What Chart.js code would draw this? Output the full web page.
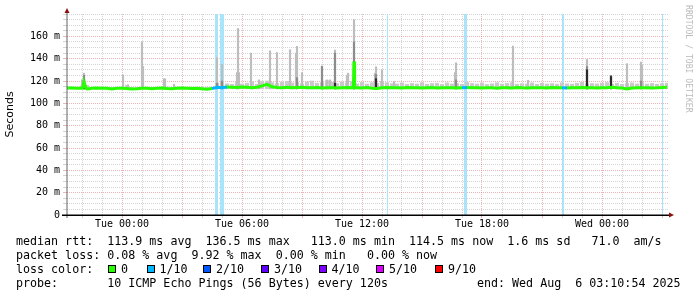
<!DOCTYPE html>
<html><head><meta charset="utf-8">
<script src="https://cdn.jsdelivr.net/npm/chart.js@4.4.1/dist/chart.umd.min.js"></script>
<style>
html,body{margin:0;padding:0;background:#fff;}
#wrap{position:relative;width:697px;height:297px;overflow:hidden;background:#fff;}
canvas{position:absolute;left:0;top:0;}
.t{position:absolute;font-family:"DejaVu Sans Mono",monospace;font-size:11.66px;line-height:14px;white-space:pre;color:#000;}
.sw{position:absolute;top:265px;width:6px;height:6px;border:1px solid #000;}
#rrd{position:absolute;left:683px;top:5px;writing-mode:vertical-rl;font-family:"DejaVu Sans Mono",monospace;font-size:8.15px;line-height:11px;color:#bbbbbb;white-space:pre;}
</style></head>
<body>
<div id="wrap">
<canvas id="c" width="697" height="297" style="width:697px;height:297px"></canvas>
<div id="rrd">RRDTOOL / TOBI OETIKER</div>
<div class="t" style="left:16px;top:234px">median rtt:  113.9 ms avg  136.5 ms max   113.0 ms min  114.5 ms now  1.6 ms sd   71.0  am/s</div>
<div class="t" style="left:16px;top:248px">packet loss: 0.08 % avg  9.92 % max  0.00 % min   0.00 % now</div>
<div class="t" style="left:16px;top:262px">loss color:</div>
<div id="lossLegend"></div>
<div class="t" style="left:16px;top:276px">probe:       10 ICMP Echo Pings (56 Bytes) every 120s</div>
<div class="t" style="left:477px;top:276px">end: Wed Aug  6 03:10:54 2025</div>
</div>
<script>
// ---- axis / tick data ----
const xTickHours  = [0, 6, 12, 18, 24];
const xTickLabels = ['Tue 00:00', 'Tue 06:00', 'Tue 12:00', 'Tue 18:00', 'Wed 00:00'];
const yTickValues = [0, 20, 40, 60, 80, 100, 120, 140, 160];
const yTickLabels = ['0', '20 m', '40 m', '60 m', '80 m', '100 m', '120 m', '140 m', '160 m'];

// time grid of the median / smoke series: hours relative to Tue 00:00, 15 min step
const gridStart = -2.75;
const gridStep = 0.25;

// median RTT (ms), one value per 15 min
const medianValues = [
  113.7,113.8,113.6,113.6,112.9,113.5,113.7,113.4,113.6,112.9,
  113.5,113.6,113.2,112.8,113.0,113.6,113.5,113.0,113.6,113.7,
  113.2,113.0,113.5,113.7,113.6,113.2,113.6,113.0,112.6,113.2,
  114.3,114.0,114.6,114.4,114.2,114.6,114.3,114.0,114.4,115.6,
  117.0,114.8,114.2,114.0,114.3,113.9,114.1,114.3,113.9,114.0,
  114.2,113.8,114.0,114.1,113.7,114.0,114.2,113.9,114.0,113.8,
  114.1,113.6,113.2,114.0,114.1,113.9,114.0,113.8,114.1,113.9,
  114.0,113.7,114.0,114.1,113.8,114.0,113.9,114.0,113.7,113.9,
  114.1,113.9,114.0,113.8,114.0,113.9,113.6,113.9,114.0,113.8,
  114.1,113.9,113.8,114.0,113.9,114.0,113.8,114.1,113.9,114.0,
  113.8,114.0,113.9,114.2,113.9,114.0,113.8,113.9,114.0,114.3,
  113.9,113.8,112.9,113.8,114.0,113.9,114.0,113.8,113.9,114.1,
  114.5
];
// short median excursions [hour, ms]
const medianSpikes = [
  [-1.95, 114.5], [-1.9, 119.0], [-1.85, 116.5], [-1.8, 113.3],
  [11.57, 114.0], [11.6, 137.5], [11.63, 114.1]
];

// light smoke band top (ms), one value per 15 min
const fuzzTop = [
  114.5,114.6,114.4,115.6,116.2,114.4,114.3,114.5,114.2,114.4,
  114.3,114.5,116.3,114.4,114.3,114.5,114.4,114.3,114.2,114.5,
  114.6,114.3,114.5,114.4,114.3,114.5,114.3,114.4,114.2,114.6,
  118.0,119.0,117.5,117.0,118.5,117.3,118.0,119.4,117.1,119.5,
  120.0,118.5,117.7,119.0,119.7,118.3,118.7,117.5,119.3,120.0,
  118.0,118.5,120.3,119.0,117.7,119.1,118.4,119.5,117.5,118.7,
  117.3,118.5,117.9,119.7,118.5,117.6,117.4,118.3,117.0,117.8,
  117.3,118.5,117.1,117.7,118.0,116.9,118.3,117.4,117.7,117.0,
  118.7,117.8,117.3,118.1,116.9,117.5,118.4,117.2,117.8,118.5,
  117.1,117.6,117.4,118.3,117.0,117.9,117.3,117.7,117.1,118.4,
  117.5,117.2,118.0,118.8,117.3,117.7,117.4,118.1,118.6,117.2,
  117.9,117.0,117.6,118.3,117.4,118.5,117.3,117.8,117.1,117.7,
  118.1
];

// smoke spikes: time (h), highest ping, mid-density top, dense core top (ms)
const spikeTimes = [-2.0,-1.9,0.05,0.3,1.0,1.05,2.1,2.15,2.6,4.75,5.0,5.75,5.8,5.85,6.45,6.85,7.4,7.75,8.4,8.7,8.75,9.0,10.0,10.25,10.4,10.65,11.25,11.3,11.6,12.65,12.7,13.0,13.6,16.65,16.7,19.55,20.3,23.25,24.45,25.25,25.95,26.0];
const spikeHigh  = [121,127,125.5,116.5,155,133,122,122,117,141,135,127.5,167,127.5,145,121,147,145.5,148,145,151,127.5,133.5,121,121,147.7,125,127,175,127,132.7,130,119.5,127.6,136.3,151.3,120.7,139.3,125,135.5,137,134];
const spikeMid   = [null,125,null,null,null,null,null,null,null,118,120,null,null,null,null,null,null,null,null,null,123,null,133,null,null,145,null,null,155,null,126,null,null,null,121,null,null,133,125,null,120,null];
const spikeCore  = [null,121,null,null,null,null,null,null,null,null,null,null,null,null,null,null,null,null,null,null,null,null,null,null,null,118,null,null,137,null,122,null,null,null,null,null,null,130,124,null,null,null];

// packet loss periods (hours)
const lossStart = [4.65, 4.90, 13.25, 17.10, 22.00, 27.00];
const lossEnd   = [4.80, 5.10, 13.30, 17.25, 22.10, 27.05];

// loss legend
const lossLabels = ['0', '1/10', '2/10', '3/10', '4/10', '5/10', '9/10'];
const lossColors = ['#26ff00', '#00b8ff', '#0059ff', '#5e00ff', '#7e00ff', '#dd00ff', '#ff0000'];
const lossSwatchX = [108, 146.5, 203, 261, 318.5, 376, 435];

// ---- build legend ----
const ll = document.getElementById('lossLegend');
lossLabels.forEach((lab, i) => {
  const s = document.createElement('div');
  s.className = 'sw'; s.style.left = lossSwatchX[i] + 'px'; s.style.background = lossColors[i];
  ll.appendChild(s);
  const t = document.createElement('div');
  t.className = 't'; t.style.top = '262px'; t.style.left = (lossSwatchX[i] + 13) + 'px';
  t.textContent = lab;
  ll.appendChild(t);
});

// ---- datasets ----
const medianPts = medianValues.map((v, i) => ({x: gridStart + i * gridStep, y: v}));
medianSpikes.forEach(([x, y]) => medianPts.push({x, y}));
medianPts.sort((a, b) => a.x - b.x);

const fuzzPts = fuzzTop.map((v, i) => ({x: gridStart + i * gridStep, y: [113, v]}));
const spikePts = spikeTimes.map((t, i) => ({x: t, y: [113, spikeHigh[i]]}));
const midPts = spikeTimes.map((t, i) => spikeMid[i] == null ? null : {x: t, y: [113, spikeMid[i]]}).filter(Boolean);
const corePts = spikeTimes.map((t, i) => spikeCore[i] == null ? null : {x: t, y: [113, spikeCore[i]]}).filter(Boolean);

const lossPts = [];
lossStart.forEach((s, i) => {
  lossPts.push({x: s, y: 180}, {x: lossEnd[i], y: 180}, {x: lossEnd[i], y: null});
});
const inLoss = x => lossStart.some((s, i) => x >= s - 0.06 && x <= lossEnd[i] + 0.06);

const gridHours = [];
for (let h = -2; h <= 27; h++) gridHours.push(h);

const RED = 'rgba(215,90,90,0.45)';
const GRAY = 'rgba(0,0,0,0.17)';

const axisArrows = {
  id: 'axisArrows',
  afterDraw(chart) {
    const {ctx, chartArea: a} = chart;
    ctx.save();
    ctx.fillStyle = '#666';
    ctx.fillRect(a.left - 0.5, a.top - 2, 1, a.bottom - a.top + 5);
    ctx.fillStyle = '#000';
    ctx.fillRect(a.left - 5, a.bottom - 0.5, a.right - a.left + 6, 1.5);
    ctx.fillStyle = '#8b1010';
    ctx.beginPath();
    ctx.moveTo(a.left - 2.5, a.top - 1); ctx.lineTo(a.left + 2.5, a.top - 1); ctx.lineTo(a.left, a.top - 6);
    ctx.closePath(); ctx.fill();
    ctx.beginPath();
    ctx.moveTo(a.right + 1, a.bottom - 2.5); ctx.lineTo(a.right + 1, a.bottom + 2.5); ctx.lineTo(a.right + 6, a.bottom);
    ctx.closePath(); ctx.fill();
    ctx.restore();
  }
};

new Chart(document.getElementById('c'), {
  type: 'bar',
  data: {
    datasets: [
      { type: 'line', data: medianPts, order: 0, borderColor: '#26ff00', borderWidth: 3,
        pointRadius: 0, tension: 0, fill: false,
        segment: { borderColor: c => inLoss((c.p0.parsed.x + c.p1.parsed.x) / 2) ? '#00b8ff' : undefined } },
      { data: corePts, order: 1, backgroundColor: '#2a2a2a', barThickness: 1.5, grouped: false },
      { data: midPts, order: 2, backgroundColor: '#8c8c8c', barThickness: 1.5, grouped: false },
      { data: spikePts, order: 3, backgroundColor: '#bdbdbd', barThickness: 1.5, grouped: false },
      { data: fuzzPts, order: 4, backgroundColor: '#cacaca', barThickness: 3.5, grouped: false },
      { type: 'line', data: lossPts, order: 5, borderWidth: 0, borderColor: 'rgba(0,0,0,0)',
        backgroundColor: '#aae4fa', pointRadius: 0, fill: 'origin', spanGaps: false }
    ]
  },
  options: {
    responsive: false, animation: false, devicePixelRatio: 1, events: [],
    layout: { padding: { left: 0, top: 14, right: 29, bottom: 65 } },
    plugins: { legend: { display: false }, tooltip: { enabled: false }, title: { display: false } },
    scales: {
      x: {
        type: 'linear', min: -2.75, max: 27.3, offset: false,
        afterBuildTicks: s => { s.ticks = gridHours.map(v => ({value: v})); },
        afterFit: s => { s.height = 17; },
        ticks: {
          autoSkip: false, maxRotation: 0, minRotation: 0, padding: 0, color: '#000',
          font: { family: 'DejaVu Sans Mono', size: 10 },
          callback: v => { const k = xTickHours.indexOf(v); return k >= 0 ? xTickLabels[k] : ''; }
        },
        grid: { offset: false, tickLength: 3, lineWidth: 1,
          color: c => (c.tick && c.tick.value % 3 === 0) ? RED : GRAY },
        border: { display: false, dash: [1, 1] }
      },
      y: {
        min: 0, max: 180,
        afterFit: s => { s.width = 67; },
        ticks: {
          stepSize: 5, autoSkip: false, padding: 3, color: '#000',
          font: { family: 'DejaVu Sans Mono', size: 10 },
          callback: v => { const k = yTickValues.indexOf(v); return k >= 0 ? yTickLabels[k] : ''; }
        },
        grid: { tickLength: 4, lineWidth: 1,
          color: c => (c.tick && yTickValues.indexOf(c.tick.value) >= 0 && c.tick.value !== 0) ? RED : GRAY },
        border: { display: false, dash: [1, 1] },
        title: { display: true, text: 'Seconds', color: '#000', font: { family: 'DejaVu Sans', size: 11 } }
      }
    }
  },
  plugins: [axisArrows]
});
</script>
</body></html>
